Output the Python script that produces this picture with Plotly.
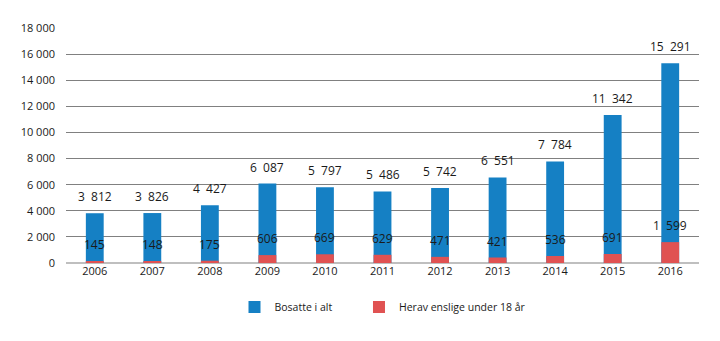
import plotly.graph_objects as go

years = ["2006", "2007", "2008", "2009", "2010", "2011", "2012", "2013", "2014", "2015", "2016"]
bosatte = [3812, 3826, 4427, 6087, 5797, 5486, 5742, 6551, 7784, 11342, 15291]
enslige = [145, 148, 175, 606, 669, 629, 471, 421, 536, 691, 1599]
y_ticks = [0, 2000, 4000, 6000, 8000, 10000, 12000, 14000, 16000, 18000]

BLUE = "#1580c4"
RED = "#e05252"
FONT = "Open Sans, Noto Sans, sans-serif"

def fmt(v):
    return f"{v:,}".replace(",", "  ")

fig = go.Figure()
fig.add_trace(go.Bar(x=years, y=bosatte, name="Bosatte i alt" + "\u00a0" * 8,
                     marker=dict(color=BLUE, line=dict(width=0)), width=0.31))
fig.add_trace(go.Bar(x=years, y=enslige, name="Herav enslige under 18 år",
                     marker=dict(color=RED, line=dict(width=0)), width=0.31))

annotations = []
for i, (b, e) in enumerate(zip(bosatte, enslige)):
    for v in (b, e):
        annotations.append(dict(x=i, y=v, xref="x", yref="y", text=fmt(v), showarrow=False,
                                yanchor="bottom", yshift=6,
                                font=dict(size=12, color="#1a1a1a", family=FONT)))

fig.update_layout(
    width=720, height=341,
    barmode="overlay",
    margin=dict(l=66, r=21, t=28, b=78),
    plot_bgcolor="white", paper_bgcolor="white",
    font=dict(family=FONT, size=11, color="#1a1a1a"),
    annotations=annotations,
    showlegend=True,
    legend=dict(orientation="h", x=0.5, xanchor="center", y=-0.125, yanchor="top",
                font=dict(size=10.5, family=FONT), itemwidth=30),
)
fig.update_xaxes(type="category", showgrid=False, showline=False, ticks="",
                 tickfont=dict(size=11), range=[-0.5, 10.5])
fig.update_yaxes(range=[0, 18000], tickvals=y_ticks,
                 ticktext=[fmt(v).replace("  ", " ") for v in y_ticks],
                 gridcolor="#808080", gridwidth=1, zeroline=True, zerolinecolor="#bfbfbf",
                 zerolinewidth=2, showline=False, ticks="", ticklabelstandoff=10,
                 tickfont=dict(size=11))

fig.write_html("out.html")
